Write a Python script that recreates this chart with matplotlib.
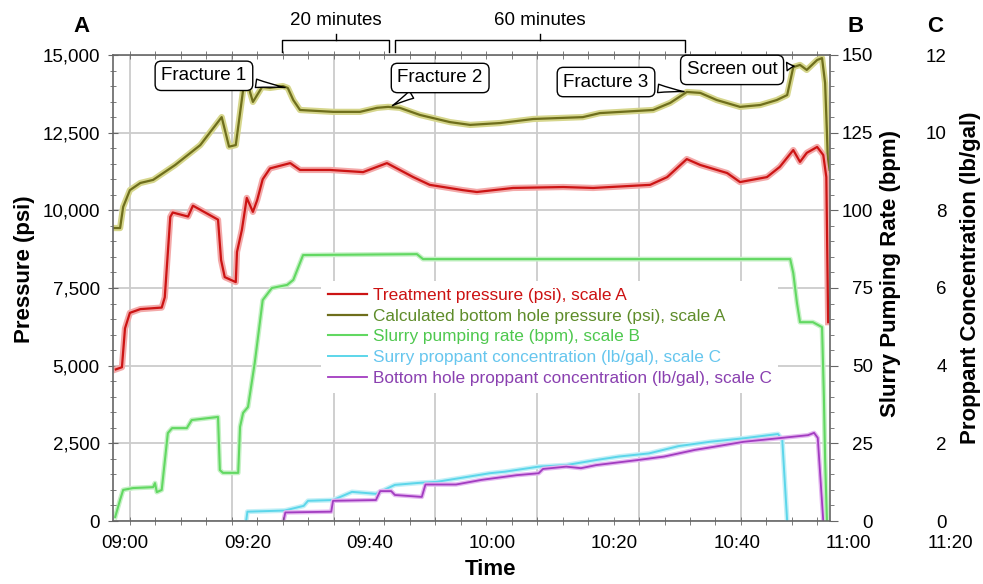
import matplotlib
matplotlib.use("Agg")
import matplotlib.pyplot as plt
import numpy as np
from matplotlib.ticker import FixedLocator, MultipleLocator, FuncFormatter

plt.rcParams["font.family"] = ["Liberation Sans", "DejaVu Sans"]

# time is in minutes after 09:00
TREAT_T = [-1.5, -0.5, 0.0, 0.8, 2.5, 6.0, 6.5, 7.4, 7.8, 10.3, 11.1, 15.2, 15.7, 16.3,
           18.1, 18.3, 19.1, 19.9, 20.9, 21.6, 22.5, 23.7, 27.0, 28.6, 33.5, 38.9, 42.8,
           47.1, 49.8, 55.2, 57.5, 63.4, 71.6, 76.5, 85.8, 88.6, 91.8, 94.0, 98.4, 100.5,
           104.9, 107.0, 109.2, 110.3, 111.4, 113.1, 114.1, 114.6, 114.9]
TREAT_PSI = [4880, 4950, 6200, 6700, 6820, 6870, 7200, 9790, 9930, 9800, 10150, 9700, 8400,
             7850, 7690, 8660, 9370, 10400, 9950, 10330, 11000, 11350, 11520, 11300, 11300,
             11230, 11520, 11070, 10820, 10650, 10590, 10720, 10750, 10720, 10820, 11070,
             11650, 11460, 11200, 10910, 11070, 11400, 11940, 11560, 11850, 12040, 11780,
             11070, 6400]

BHP_T = [-1.9, -0.8, -0.3, 0.8, 2.5, 4.6, 8.2, 12.3, 15.8, 17.0, 18.1, 19.3, 20.1, 20.9,
         22.4, 23.7, 25.8, 26.6, 27.5, 28.6, 34.0, 38.4, 41.2, 43.0, 44.9, 48.2, 53.1, 56.4,
         61.3, 66.7, 74.8, 77.6, 86.3, 89.1, 91.8, 94.0, 96.7, 100.5, 103.8, 106.5, 108.2,
         109.2, 110.3, 111.4, 113.1, 113.9, 114.4, 114.7, 114.9]
BHP_PSI = [9430, 9430, 10110, 10650, 10880, 10980, 11460, 12100, 13000, 12050, 12100, 13870,
           14030, 13490, 13970, 13940, 14000, 13940, 13550, 13230, 13170, 13170, 13300, 13330,
           13300, 13070, 12840, 12750, 12810, 12940, 13000, 13130, 13230, 13460, 13810, 13780,
           13550, 13330, 13390, 13550, 13710, 14610, 14680, 14520, 14840, 14900, 14100, 12490,
           11300]

RATE_T = [-1.6, -0.8, -0.3, 1.3, 4.6, 4.9, 5.2, 6.0, 7.0, 7.7, 10.1, 10.9, 15.2, 15.5, 16.0,
          18.5, 18.8, 19.3, 20.1, 21.2, 22.5, 24.0, 26.5, 27.5, 29.1, 47.7, 48.7, 108.7,
          109.2, 109.8, 110.3, 112.4, 113.9, 114.2, 114.4, 114.7]
RATE_BPM = [1.3, 6.8, 10, 10.6, 10.9, 12.2, 9.3, 10, 28.3, 29.9, 29.9, 32.5, 33.5, 16.4, 15.5,
            15.5, 30.3, 34.8, 36.7, 50.9, 71.1, 75, 76, 77.6, 85.6, 85.9, 84.3, 84.3, 79.8,
            70.2, 64, 64, 62.4, 40, 20, 0]

SURF_T = [19.8, 20.0, 26.1, 29.2, 29.9, 34.0, 37.1, 41.0, 44.1, 47.9, 51.0, 59.6, 62.1, 67.6,
          72.1, 77.0, 80.7, 85.6, 90.5, 95.6, 101.1, 106.7, 107.4, 108.2]
SURF_PPG = [0, 0.24, 0.27, 0.39, 0.52, 0.54, 0.75, 0.70, 0.93, 0.98, 1.01, 1.23, 1.27, 1.40,
            1.44, 1.57, 1.66, 1.74, 1.93, 2.04, 2.13, 2.24, 2.09, 0]

BH_T = [25.9, 26.2, 33.7, 34.0, 41.0, 41.7, 43.5, 44.1, 48.5, 49.1, 54.1, 58.3, 64.0, 67.6,
        68.3, 72.1, 74.5, 77.0, 83.8, 88.1, 93.1, 96.2, 101.1, 106.7, 111.6, 112.6, 113.2,
        114.1]
BH_PPG = [0, 0.22, 0.24, 0.52, 0.54, 0.77, 0.77, 0.67, 0.62, 0.94, 0.94, 1.06, 1.18, 1.23,
          1.34, 1.40, 1.36, 1.44, 1.57, 1.66, 1.83, 1.91, 2.04, 2.13, 2.21, 2.27, 2.14, 0]

TIME_TICKS = [0, 20, 40, 60, 80, 100]
TIME_LABELS = ["09:00", "09:20", "09:40", "10:00", "10:20", "10:40"]
EXTRA_TIME_LABELS = ["11:00", "11:20"]

LEGEND_LABELS = [
    "Treatment pressure (psi), scale A",
    "Calculated bottom hole pressure (psi), scale A",
    "Slurry pumping rate (bpm), scale B",
    "Surry proppant concentration (lb/gal), scale C",
    "Bottom hole proppant concentration (lb/gal), scale C",
]

# (text, event time, box centre time, box centre psi)
CALLOUTS = [
    ("Fracture 1", 26.6, 12.9, 14330),
    ("Fracture 2", 43.3, 51.5, 14260),
    ("Fracture 3", 91.8, 78.6, 14130),
    ("Screen out", 109.8, 99.2, 14520),
]
BRACKETS = [("20 minutes", 25.7, 43.1), ("60 minutes", 44.1, 91.5)]

COL_TREAT, HALO_TREAT, TXT_TREAT = "#cc1414", "#f3a9a9", "#cc1111"
COL_BHP, HALO_BHP, TXT_BHP = "#6e6e1c", "#d6d68c", "#5e8c2a"
COL_RATE, HALO_RATE, TXT_RATE = "#62d862", "#c6f1c6", "#4ec84e"
COL_SURF, HALO_SURF, TXT_SURF = "#5cd6ea", "#c4f0f7", "#66c6ee"
COL_BH, HALO_BH, TXT_BH = "#a23cc0", "#e4b8f0", "#8a40b0"
GRID = "#cccccc"
SPINE = "#666666"

fig = plt.figure(figsize=(9.83, 5.84), dpi=100)
rect = [113 / 983, 1 - 521 / 584, 717 / 983, 466 / 584]
ax = fig.add_axes(rect)
ax2 = ax.twinx()
ax3 = ax.twinx()
ax3.set_zorder(1)
ax2.set_zorder(2)
ax.set_zorder(3)
ax.patch.set_visible(False)
ax2.patch.set_visible(False)

xmin, xmax = -1.96, 115.2
ax.set_xlim(xmin, xmax)
ax.set_ylim(0, 15000)
ax2.set_ylim(0, 150)
ax3.set_ylim(0, 12)

# grid (drawn on the lowest axes so curves sit over it)
step = 16.64
for g in np.arange(0.8, xmax, step):
    ax3.axvline(g, color=GRID, lw=1.3, zorder=0)
ax3.set_yticks(np.arange(0, 13, 2))
ax3.yaxis.grid(True, color=GRID, lw=1.3)
ax3.set_axisbelow(True)

# curves
ax3.plot(SURF_T, SURF_PPG, color=HALO_SURF, lw=3.5, solid_capstyle="round")
l_surf, = ax3.plot(SURF_T, SURF_PPG, color=COL_SURF, lw=1.4)
ax3.plot(BH_T, BH_PPG, color=HALO_BH, lw=3.2, solid_capstyle="round")
l_bh, = ax3.plot(BH_T, BH_PPG, color=COL_BH, lw=1.3)
ax2.plot(RATE_T, RATE_BPM, color=HALO_RATE, lw=3.5)
l_rate, = ax2.plot(RATE_T, RATE_BPM, color=COL_RATE, lw=1.5)
ax.plot(BHP_T, BHP_PSI, color=HALO_BHP, lw=4.5)
l_bhp, = ax.plot(BHP_T, BHP_PSI, color=COL_BHP, lw=1.6)
ax.plot(TREAT_T, TREAT_PSI, color=HALO_TREAT, lw=4.5)
l_treat, = ax.plot(TREAT_T, TREAT_PSI, color=COL_TREAT, lw=1.6)

# spines and ticks
for a in (ax2, ax3):
    for s in a.spines.values():
        s.set_visible(False)
for s in ax.spines.values():
    s.set_color(SPINE)
    s.set_linewidth(1.2)

ax.set_yticks(np.arange(0, 15001, 2500))
ax.yaxis.set_major_formatter(FuncFormatter(lambda v, p: f"{int(v):,}"))
ax.yaxis.set_minor_locator(MultipleLocator(500))
ax.tick_params(axis="y", which="major", direction="inout", length=7, pad=6,
               labelsize=13.5, color=SPINE)
ax.tick_params(axis="y", which="minor", direction="inout", length=4, color=SPINE)

ax.set_xticks(TIME_TICKS)
ax.set_xticklabels(TIME_LABELS)
ax.xaxis.set_minor_locator(FixedLocator(np.arange(0.8, xmax, step / 4)))
ax.tick_params(axis="x", which="major", length=0, pad=10, labelsize=13.5)
ax.tick_params(axis="x", which="minor", direction="inout", length=6, top=True,
               color=SPINE)

ax2.set_yticks(np.arange(0, 151, 25))
ax2.yaxis.set_minor_locator(MultipleLocator(5))
ax2.tick_params(axis="y", which="major", direction="out", length=6, pad=25,
                labelsize=13.5, color=SPINE)
ax2.tick_params(axis="y", which="minor", direction="out", length=3, color=SPINE)
for lab in ax2.get_yticklabels():
    lab.set_ha("right")

ax3.spines["right"].set_position(("axes", 1.163))
ax3.tick_params(axis="y", length=0, pad=0, labelsize=13.5)
for lab in ax3.get_yticklabels():
    lab.set_ha("right")

# axis labels
ax.set_xlabel("Time", fontsize=16, fontweight="bold", va="center")
ax.xaxis.set_label_coords(0.526, -0.105)
ax.set_ylabel("Pressure (psi)", fontsize=16, fontweight="bold", va="center")
ax.yaxis.set_label_coords(-0.124, 0.54)
ax2.set_ylabel("Slurry Pumping Rate (bpm)", fontsize=16, fontweight="bold",
               rotation=90, va="center")
ax2.yaxis.set_label_coords(1.084, 0.532)
ax3.set_ylabel("Proppant Concentration (lb/gal)", fontsize=16, fontweight="bold",
               rotation=90, va="center")
ax3.yaxis.set_label_coords(1.196, 0.521)

for txt, px in zip(EXTRA_TIME_LABELS, [848, 950]):
    fig.text(px / 983, 1 - 544 / 584, txt, ha="center", va="center", fontsize=13.5)
for txt, px in zip(["A", "B", "C"], [81, 856, 935]):
    fig.text(px / 983, 1 - 27 / 584, txt, ha="center", va="center",
             fontsize=16, fontweight="bold")

# callouts
for txt, t_evt, tx, ty in CALLOUTS:
    ax.annotate(txt, xy=(t_evt, np.interp(t_evt, BHP_T, BHP_PSI)), xytext=(tx, ty),
                ha="center", va="center", fontsize=13.5, zorder=6,
                bbox=dict(boxstyle="round,pad=0.33", fc="white", ec="black", lw=1),
                arrowprops=dict(arrowstyle="wedge,tail_width=0.45,shrink_factor=0.4",
                                fc="white", ec="black", lw=1))

# duration brackets above the plot
tr = ax.get_xaxis_transform()
for txt, t0, t1 in BRACKETS:
    mid = (t0 + t1) / 2
    ax.plot([t0, t0, t1, t1], [1.006, 1.032, 1.032, 1.006], color="black", lw=1,
            transform=tr, clip_on=False)
    ax.plot([mid, mid], [1.032, 1.046], color="black", lw=1, transform=tr, clip_on=False)
    ax.text(mid, 1.075, txt, transform=tr, ha="center", va="center", fontsize=13.5)

leg = ax.legend([l_treat, l_bhp, l_rate, l_surf, l_bh], LEGEND_LABELS, loc="upper left",
                bbox_to_anchor=(0.290, 0.515), borderaxespad=0, borderpad=0.4,
                fontsize=12.4, handlelength=2.3, handletextpad=0.3, labelspacing=0.33,
                frameon=True, fancybox=False, facecolor="white", edgecolor="none",
                framealpha=1)
for text, c in zip(leg.get_texts(), [TXT_TREAT, TXT_BHP, TXT_RATE, TXT_SURF, TXT_BH]):
    text.set_color(c)
leg.set_zorder(5)

fig.savefig("out.png", dpi=100, facecolor="white")
